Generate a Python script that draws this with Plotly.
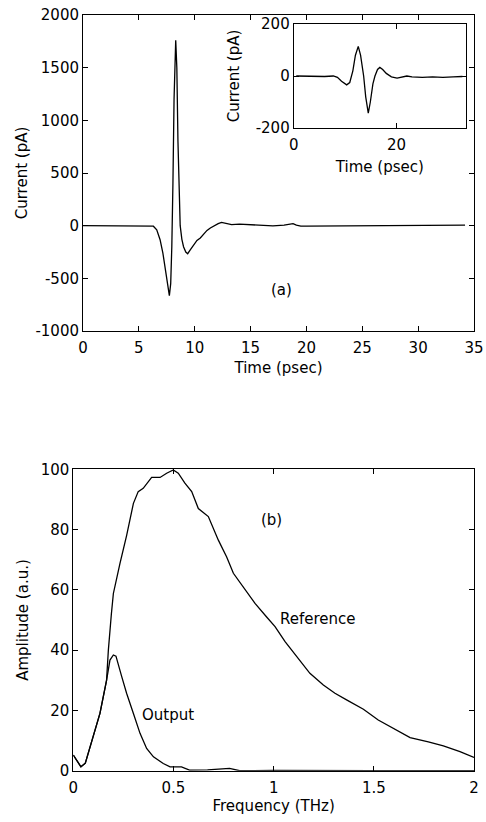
import plotly.graph_objects as go

# ---- data: (a) main time-domain trace ----
time_main = [0, 2, 4, 5.5, 6.0, 6.3, 6.6, 6.9, 7.15, 7.35, 7.55, 7.73, 7.85, 7.95, 8.05, 8.15,
             8.3, 8.4, 8.5, 8.6, 8.7, 8.85, 9.0, 9.2, 9.37, 9.6, 9.9, 10.2, 10.5, 10.8, 11.1,
             11.4, 11.8, 12.1, 12.4, 12.8, 13.3, 14, 15, 16, 17, 18, 18.5, 18.8, 19.1, 19.5,
             20, 22, 24, 26, 28, 30, 32, 34.2]
current_main = [0, 0, 0, 2, 0, -5, -40, -133, -260, -400, -580, -665, -550, -200, 400, 1200,
                1760, 1500, 800, 300, 0, -130, -200, -250, -266, -230, -180, -140, -117, -80, -45,
                -22, 5, 20, 31, 20, 10, 15, 10, 0, -2, 5, 12, 20, 5, -4,
                -5, -3, 0, -5, 0, 5, 3, 5]

# ---- data: (a) inset trace ----
time_inset = [0.5, 3, 6, 7.7, 8.5, 9.3, 10.3, 10.9, 11.5, 12.0, 12.55, 13.0, 13.6, 14.0, 14.5,
              14.9, 15.4, 15.8, 16.3, 16.75, 17.3, 18, 19, 20.1, 21, 22, 23, 25, 27, 29, 31, 32.8]
current_inset = [0, -2, -2, 0, -5, -20, -34, -25, 20, 80, 114, 80, 0, -80, -143,
                 -100, -30, 0, 25, 33, 25, 10, -3, -8, -3, 0, -3, -5, -3, -5, -3, -2]

# ---- data: (b) spectra ----
freq_ref = [0, 0.015, 0.038, 0.06, 0.092, 0.133, 0.166, 0.175, 0.19, 0.2, 0.233, 0.266, 0.3,
            0.324, 0.349, 0.391, 0.433, 0.466, 0.499, 0.524, 0.557, 0.591, 0.624, 0.674, 0.724,
            0.765, 0.799, 0.849, 0.907, 0.965, 1.007, 1.057, 1.115, 1.181, 1.248, 1.306, 1.364,
            1.448, 1.522, 1.597, 1.681, 1.772, 1.847, 1.93, 2.0]
amp_ref = [5.2, 3.5, 1.3, 2.5, 9.6, 19, 30, 40, 52, 58.8, 68.8, 78, 88.7,
           92.6, 93.7, 97.3, 97.3, 98.7, 99.8, 98.7, 95.4, 92.6, 87, 84.3, 76.5,
           71, 65.5, 61, 55.5, 51, 47.8, 42.8, 37.8, 32.3, 28.4, 25.7, 23.5,
           20.4, 16.8, 14, 11, 9.6, 8.2, 6.3, 4.4]

freq_out = [0, 0.015, 0.038, 0.06, 0.092, 0.133, 0.166, 0.183, 0.2, 0.213, 0.241, 0.266, 0.3,
            0.333, 0.366, 0.4, 0.449, 0.483, 0.54, 0.58, 0.67, 0.75, 0.78, 0.83, 1.0, 1.5, 2.0]
amp_out = [5.2, 3.5, 1.3, 2.5, 9.6, 19, 30, 36.7, 38.4, 38, 31.4, 25.7, 19,
           12.4, 7.4, 4.6, 2.4, 1.3, 1.3, 0.2, 0.3, 0.5, 0.8, 0, 0.1, 0, 0]

# ---- tick labels ----
main_x_ticks = [0, 5, 10, 15, 20, 25, 30, 35]
main_y_ticks = [-1000, -500, 0, 500, 1000, 1500, 2000]
main_y_text = ["-1000", "-500", "0", "500", "1000", "1500", "2000"]
inset_x_ticks = [0, 20]
inset_y_ticks = [-200, 0, 200]
inset_y_text = ["-200", "0", "200"]
spec_x_ticks = [0, 0.5, 1, 1.5, 2]
spec_x_text = ["0", "0.5", "1", "1.5", "2"]
spec_y_ticks = [0, 20, 40, 60, 80, 100]

FONT = dict(family="DejaVu Sans", size=15, color="black")
LINE = dict(color="black", width=1.3)

fig = go.Figure()
fig.add_trace(go.Scatter(x=time_main, y=current_main, mode="lines", line=LINE,
                         xaxis="x", yaxis="y", showlegend=False))
fig.add_trace(go.Scatter(x=time_inset, y=current_inset, mode="lines", line=LINE,
                         xaxis="x2", yaxis="y2", showlegend=False))
fig.add_trace(go.Scatter(x=freq_ref, y=amp_ref, mode="lines", line=LINE,
                         xaxis="x3", yaxis="y3", showlegend=False))
fig.add_trace(go.Scatter(x=freq_out, y=amp_out, mode="lines", line=LINE,
                         xaxis="x3", yaxis="y3", showlegend=False))

W, H = 486, 822
def dx(a, b):
    return [a / W, b / W]
def dy(top, bottom):
    return [1 - bottom / H, 1 - top / H]

axis_common = dict(showline=True, linecolor="black", linewidth=1, mirror="allticks",
                   ticks="inside", ticklen=5, tickcolor="black", showgrid=False,
                   zeroline=False, tickfont=FONT, title_font=FONT, automargin=False)

fig.update_layout(
    width=W, height=H,
    margin=dict(l=0, r=0, t=0, b=0),
    paper_bgcolor="white", plot_bgcolor="white",
    font=FONT,
    xaxis=dict(axis_common, domain=dx(83, 474), range=[0, 35], tickvals=main_x_ticks,
               anchor="y", ticklabelstandoff=3, title=dict(text="Time (psec)", standoff=6)),
    yaxis=dict(axis_common, domain=dy(15, 331), range=[-1000, 2000], tickvals=main_y_ticks,
               ticktext=main_y_text, anchor="x", title=dict(text="Current (pA)", standoff=4)),
    xaxis2=dict(axis_common, domain=dx(293.7, 466), range=[0, 33.5], tickvals=inset_x_ticks,
                anchor="y2", ticklabelstandoff=3, title=dict(text="Time (psec)", standoff=8)),
    yaxis2=dict(axis_common, domain=dy(24, 128), range=[-200, 200], tickvals=inset_y_ticks,
                ticktext=inset_y_text, anchor="x2", title=dict(text="Current (pA)", standoff=12)),
    xaxis3=dict(axis_common, domain=dx(73.3, 474), range=[0, 2], tickvals=spec_x_ticks,
                ticktext=spec_x_text, anchor="y3", ticklabelstandoff=3,
                title=dict(text="Frequency (THz)", standoff=4)),
    yaxis3=dict(axis_common, domain=dy(469.3, 770.7), range=[0, 100], tickvals=spec_y_ticks,
                anchor="x3", title=dict(text="Amplitude (a.u.)", standoff=8)),
    annotations=[
        dict(text="(a)", x=17.8, y=-608, xref="x", yref="y", showarrow=False, font=FONT),
        dict(text="(b)", x=0.99, y=83.2, xref="x3", yref="y3", showarrow=False, font=FONT),
        dict(text="Reference", x=1.223, y=50.3, xref="x3", yref="y3", showarrow=False, font=FONT),
        dict(text="Output", x=0.471, y=18.5, xref="x3", yref="y3", showarrow=False, font=FONT),
    ],
)

fig.write_html("out.html", config={"displayModeBar": False},
               post_script="document.body.style.margin='0px';document.body.style.padding='0px';")
